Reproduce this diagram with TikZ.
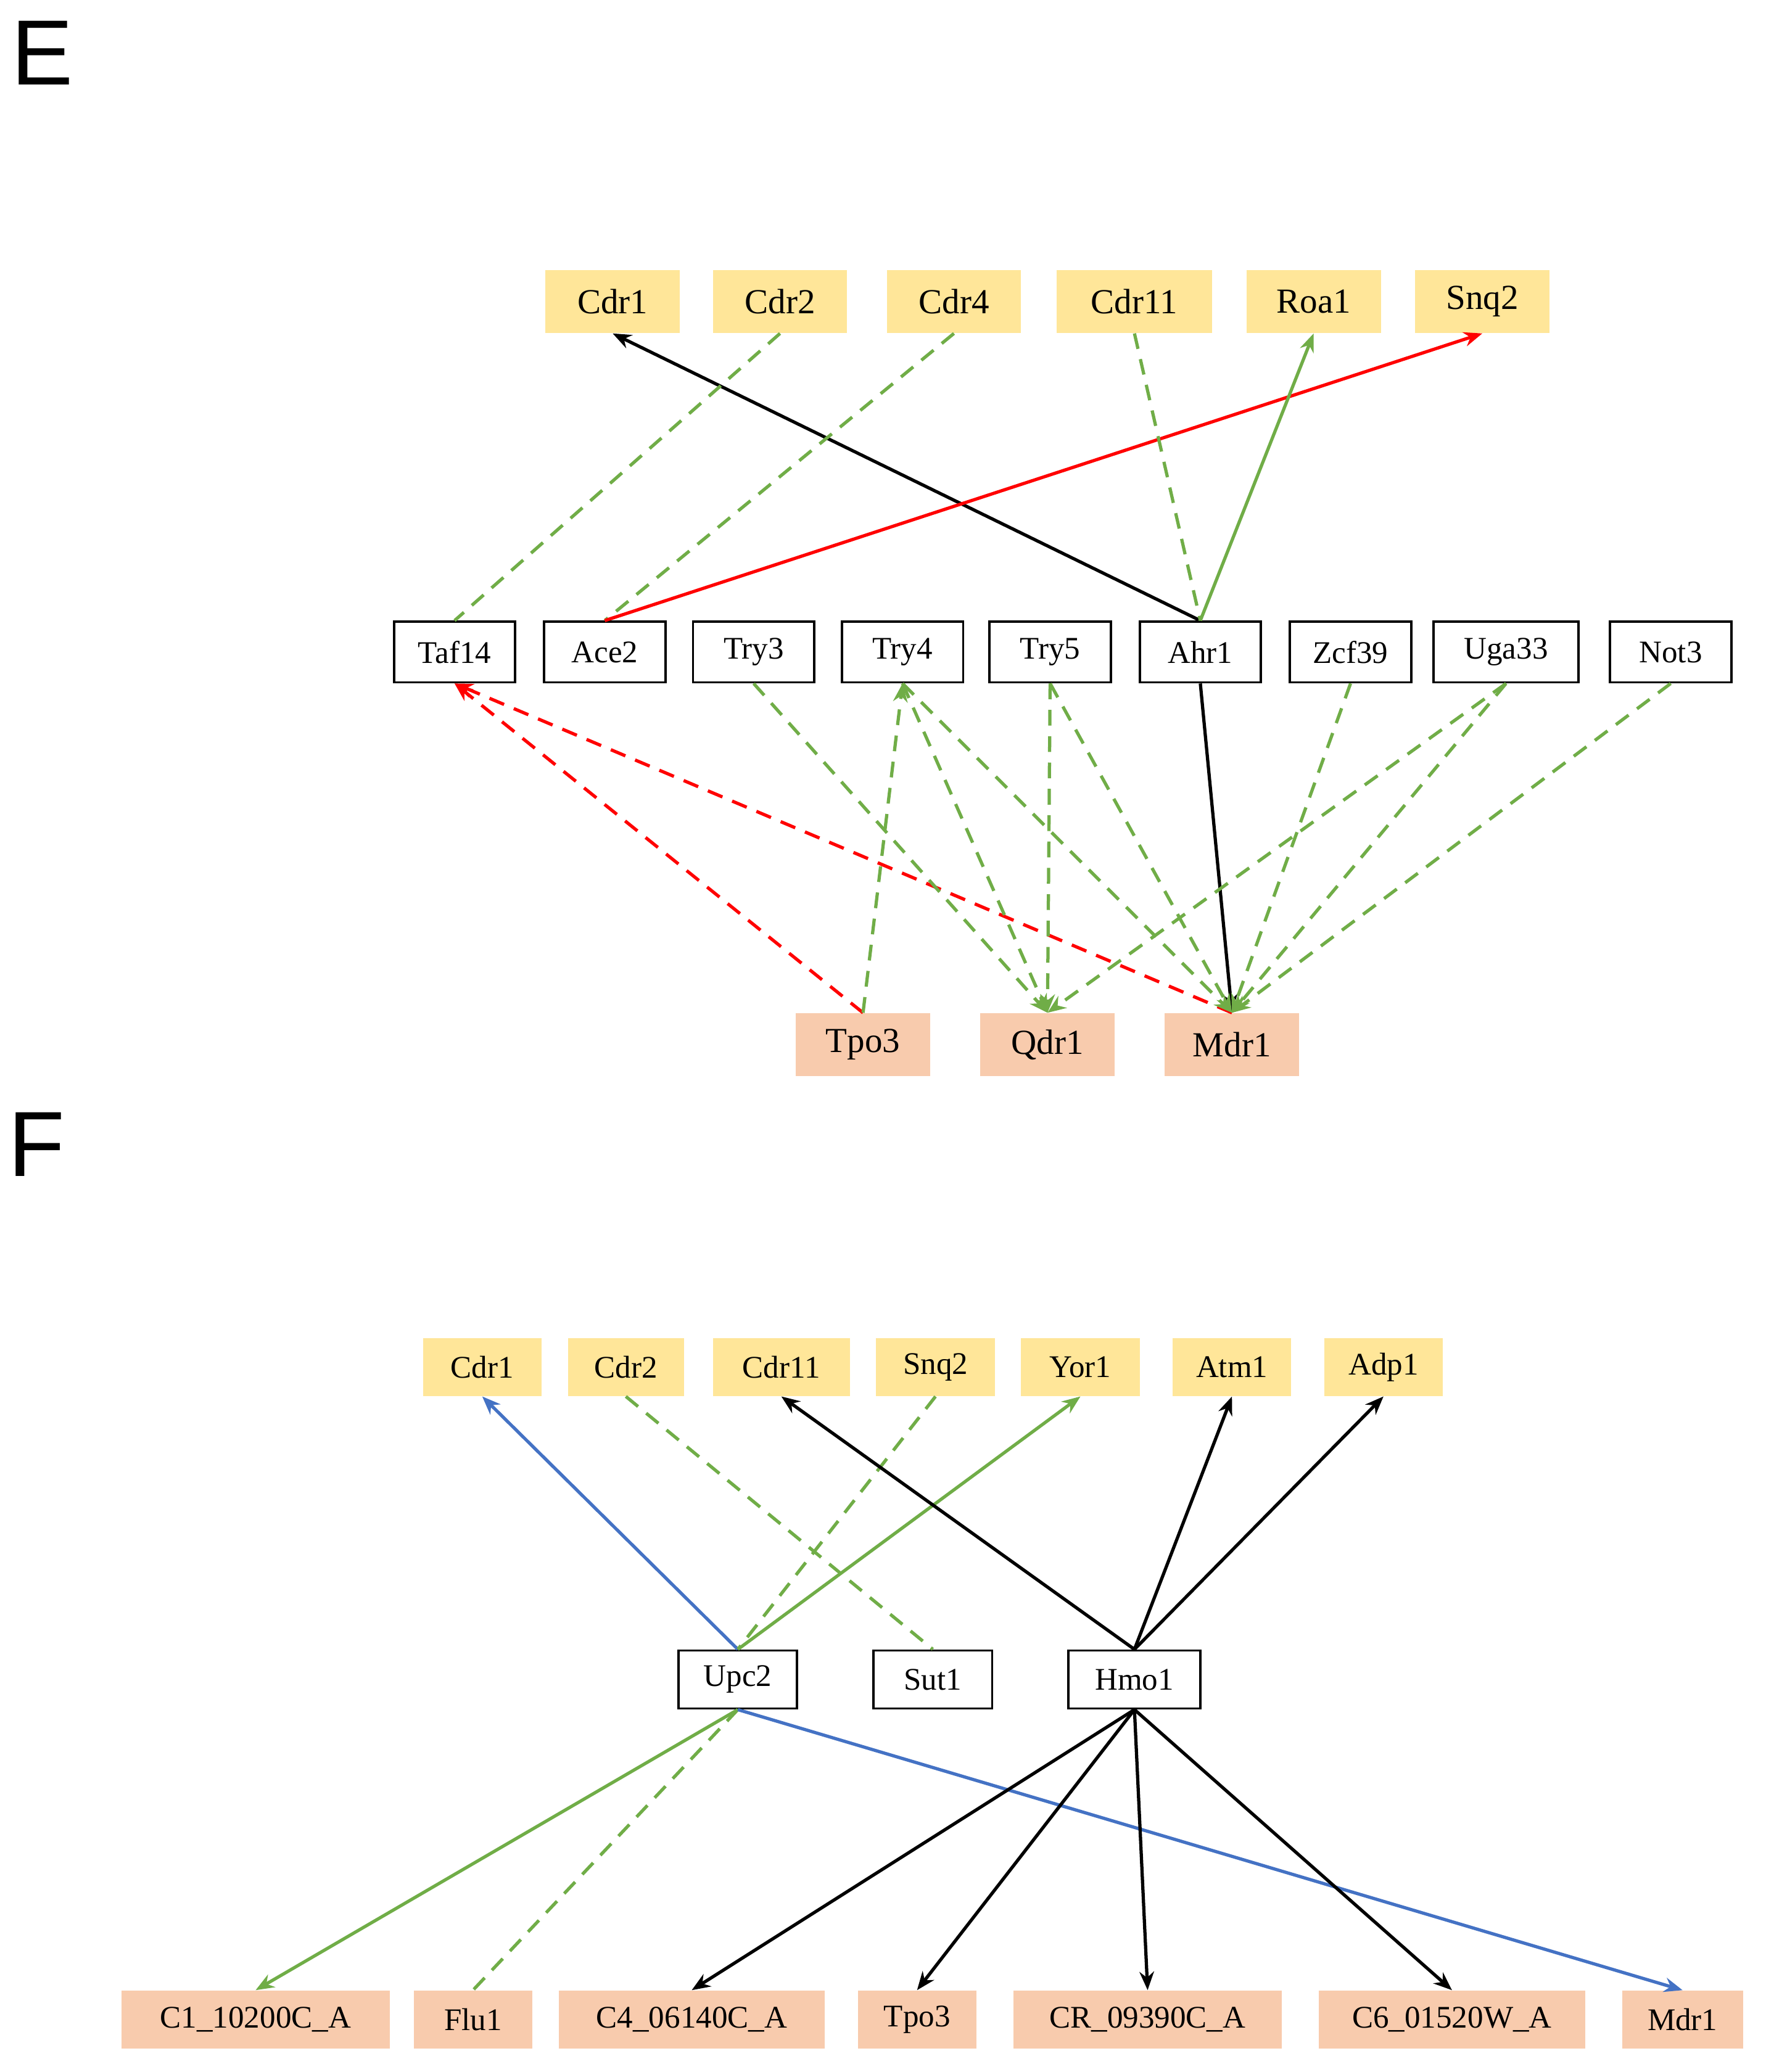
\documentclass[tikz,border=0pt]{standalone}
\usepackage{fontspec}
\setmainfont{Liberation Serif}
\newfontfamily\lblfont{Liberation Sans}
\usetikzlibrary{arrows.meta}
\definecolor{yel}{HTML}{FFE699}
\definecolor{ora}{HTML}{F8CBAD}
\definecolor{grn}{HTML}{70AD47}
\definecolor{blu}{HTML}{4472C4}
\begin{document}
\begin{tikzpicture}[x=0.05cm,y=-0.05cm,
  yb/.style={fill=yel,inner sep=0,minimum height=2.4cm,font=\fontsize{38}{40}\selectfont},
  ob/.style={fill=ora,inner sep=0,minimum height=2.4cm,font=\fontsize{38}{40}\selectfont},
  wb/.style={draw,line width=2.5pt,inner sep=0,minimum width=4.6cm,minimum height=2.3cm,font=\fontsize{34}{36}\selectfont},
  yf/.style={fill=yel,inner sep=0,minimum height=2.2cm,font=\fontsize{34}{36}\selectfont},
  of/.style={fill=ora,inner sep=0,minimum height=2.2cm,font=\fontsize{34}{36}\selectfont},
  e/.style={line width=3.5pt,-{Stealth[length=0.7cm,width=0.55cm]}},
  ne/.style={line width=3.5pt},
  dsh/.style={dash pattern=on 0.6cm off 0.4cm},
  lbl/.style={font=\lblfont\fontsize{100}{100}\selectfont,inner sep=0}]
\useasboundingbox (0,0) rectangle (1340,1573);
\node[lbl] (E) at (32,40) {E};
\node[lbl] (F) at (28,869) {F};
% E top
\node[yb,minimum width=5.1cm] (cdr1) at (465,229) {Cdr1};
\node[yb,minimum width=5.1cm] (cdr2) at (592,229) {Cdr2};
\node[yb,minimum width=5.1cm] (cdr4) at (724,229) {Cdr4};
\node[yb,minimum width=5.9cm] (cdr11) at (861,229) {Cdr11};
\node[yb,minimum width=5.1cm] (roa1) at (997,229) {Roa1};
\node[yb,minimum width=5.1cm] (snq2) at (1125,229) {Snq2};
% E middle
\node[wb] (taf14) at (345,495) {Taf14};
\node[wb] (ace2) at (459,495) {Ace2};
\node[wb] (try3) at (572,495) {Try3};
\node[wb] (try4) at (685,495) {Try4};
\node[wb] (try5) at (797,495) {Try5};
\node[wb] (ahr1) at (911,495) {Ahr1};
\node[wb] (zcf39) at (1025,495) {Zcf39};
\node[wb,minimum width=5.5cm] (uga33) at (1143,495) {Uga33};
\node[wb] (not3) at (1268,495) {Not3};
% E bottom
\node[ob,minimum width=5.1cm] (tpo3) at (655,793) {Tpo3};
\node[ob,minimum width=5.1cm] (qdr1) at (795,793) {Qdr1};
\node[ob,minimum width=5.1cm] (mdr1) at (935,793) {Mdr1};
% E edges
\draw[e] (ahr1.north) -- (cdr1.south);
\draw[ne,grn,dsh] (cdr2.south) -- (taf14.north);
\draw[ne,grn,dsh] (cdr4.south) -- (ace2.north);
\draw[e,red] (ace2.north) -- (snq2.south);
\draw[ne,grn,dsh] (cdr11.south) -- (ahr1.north);
\draw[e,grn] (ahr1.north) -- (roa1.south);
\draw[e] (ahr1.south) -- (mdr1.north);
\draw[e,red,dsh] (tpo3.north) -- (taf14.south);
\draw[e,red,dsh] (mdr1.north) -- (taf14.south);
\draw[e,grn,dsh] (tpo3.north) -- (try4.south);
\draw[e,grn,dsh] (try3.south) -- (qdr1.north);
\draw[e,grn,dsh] (try4.south) -- (qdr1.north);
\draw[e,grn,dsh] (try4.south) -- (mdr1.north);
\draw[e,grn,dsh] (try5.south) -- (qdr1.north);
\draw[e,grn,dsh] (try5.south) -- (mdr1.north);
\draw[e,grn,dsh] (zcf39.south) -- (mdr1.north);
\draw[e,grn,dsh] (uga33.south) -- (qdr1.north);
\draw[e,grn,dsh] (uga33.south) -- (mdr1.north);
\draw[e,grn,dsh] (not3.south) -- (mdr1.north);
% F top
\node[yf,minimum width=4.5cm] (fcdr1) at (366,1038) {Cdr1};
\node[yf,minimum width=4.4cm] (fcdr2) at (475,1038) {Cdr2};
\node[yf,minimum width=5.2cm] (fcdr11) at (593,1038) {Cdr11};
\node[yf,minimum width=4.5cm] (fsnq2) at (710,1038) {Snq2};
\node[yf,minimum width=4.5cm] (yor1) at (820,1038) {Yor1};
\node[yf,minimum width=4.5cm] (atm1) at (935,1038) {Atm1};
\node[yf,minimum width=4.5cm] (adp1) at (1050,1038) {Adp1};
% F middle
\node[wb,minimum width=4.5cm,minimum height=2.2cm] (upc2) at (560,1275) {Upc2};
\node[wb,minimum width=4.5cm,minimum height=2.2cm] (sut1) at (708,1275) {Sut1};
\node[wb,minimum width=5.0cm,minimum height=2.2cm] (hmo1) at (861,1275) {Hmo1};
% F bottom
\node[of,minimum width=10.2cm] (c1) at (194,1533) {C1\_10200C\_A};
\node[of,minimum width=4.5cm] (flu1) at (359,1533) {Flu1};
\node[of,minimum width=10.1cm] (c4) at (525,1533) {C4\_06140C\_A};
\node[of,minimum width=4.5cm] (ftpo3) at (696,1533) {Tpo3};
\node[of,minimum width=10.2cm] (cr) at (871,1533) {CR\_09390C\_A};
\node[of,minimum width=10.1cm] (c6) at (1102,1533) {C6\_01520W\_A};
\node[of,minimum width=4.6cm] (fmdr1) at (1277,1533) {Mdr1};
% F edges
\draw[e,blu] (upc2.north) -- (fcdr1.south);
\draw[ne,grn,dsh] (fcdr2.south) -- (sut1.north);
\draw[ne,grn,dsh] (fsnq2.south) -- (upc2.north);
\draw[e,grn] (upc2.north) -- (yor1.south);
\draw[e] (hmo1.north) -- (fcdr11.south);
\draw[e] (hmo1.north) -- (atm1.south);
\draw[e] (hmo1.north) -- (adp1.south);
\draw[e,grn] (upc2.south) -- (c1.north);
\draw[ne,grn,dsh] (upc2.south) -- (flu1.north);
\draw[e,blu] (upc2.south) -- (fmdr1.north);
\draw[e] (hmo1.south) -- (c4.north);
\draw[e] (hmo1.south) -- (ftpo3.north);
\draw[e] (hmo1.south) -- (cr.north);
\draw[e] (hmo1.south) -- (c6.north);
\end{tikzpicture}
\end{document}
